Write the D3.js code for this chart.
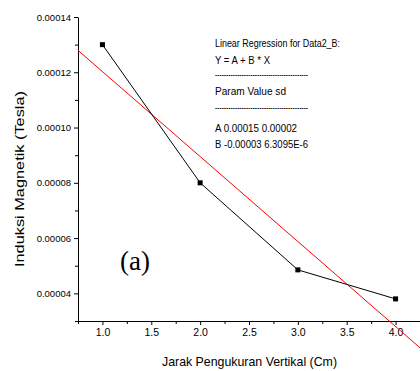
<!DOCTYPE html>
<html>
<head>
<meta charset="utf-8">
<script src="https://cdn.jsdelivr.net/npm/d3@7"></script>
<style>
  body { margin: 0; background: #fff; }
  svg { display: block; }
  .axis path, .axis line { stroke: #000; stroke-width: 1; }
  .axis text { font-family: "Liberation Sans", Arial, sans-serif; fill: #000; }
</style>
</head>
<body>
<svg id="chart"></svg>
<script>
// measured data (distance in cm, field in tesla)
const jarak = [1.0, 2.0, 3.0, 4.0];
const induksi = [0.00013, 0.00008, 0.0000485, 0.000038];

const xTicks = [1.0, 1.5, 2.0, 2.5, 3.0, 3.5, 4.0];
const xMinor = [0.75, 1.25, 1.75, 2.25, 2.75, 3.25, 3.75, 4.25];
const yTicks = [0.00004, 0.00006, 0.00008, 0.00010, 0.00012, 0.00014];
const yMinor = [0.00003, 0.00005, 0.00007, 0.00009, 0.00011, 0.00013];

const fitText = [
  "Linear Regression for Data2_B:",
  "Y = A + B * X",
  "------------------------------------------",
  "Param   Value   sd",
  "------------------------------------------",
  "A   0.00015   0.00002",
  "B   -0.00003   6.3095E-6"
];

const w = 420, h = 371;
const svg = d3.select("#chart").attr("width", w).attr("height", h);

const x = d3.scaleLinear().domain([0.75, 4.25]).range([78, 420]);
const y = d3.scaleLinear().domain([0.00003, 0.00014]).range([321, 17]);

// least squares fit
const mx = d3.mean(jarak), my = d3.mean(induksi);
let sxy = 0, sxx = 0;
jarak.forEach(function(d, i) {
  sxy += (d - mx) * (induksi[i] - my);
  sxx += (d - mx) * (d - mx);
});
const B = sxy / sxx;
const A = my - B * mx;

// minor ticks first
svg.append("g")
  .attr("class", "axis")
  .attr("transform", "translate(0,321)")
  .call(d3.axisBottom(x).tickValues(xMinor).tickSize(3).tickSizeOuter(0).tickFormat(""))
  .select(".domain").remove();

svg.append("g")
  .attr("class", "axis")
  .attr("transform", "translate(78,0)")
  .call(d3.axisLeft(y).tickValues(yMinor).tickSize(3).tickSizeOuter(0).tickFormat(""))
  .select(".domain").remove();

// major axes
const xAxis = svg.append("g")
  .attr("class", "axis")
  .attr("transform", "translate(0,321)")
  .call(d3.axisBottom(x).tickValues(xTicks).tickSize(4).tickSizeOuter(0).tickPadding(4)
    .tickFormat(d3.format(".1f")));
xAxis.selectAll("text").style("font-size", "10.5px");

const yAxis = svg.append("g")
  .attr("class", "axis")
  .attr("transform", "translate(78,0)")
  .call(d3.axisLeft(y).tickValues(yTicks).tickSize(4).tickSizeOuter(0).tickPadding(3)
    .tickFormat(d3.format(".5f")));
yAxis.selectAll("text").style("font-size", "9.5px");

// regression line
svg.append("line")
  .attr("x1", x(0.75)).attr("y1", y(A + B * 0.75))
  .attr("x2", x(4.25)).attr("y2", y(A + B * 4.25))
  .attr("stroke", "#ff0000")
  .attr("stroke-width", 1);

// data line and markers
const line = d3.line()
  .x(function(d, i) { return x(jarak[i]); })
  .y(function(d) { return y(d); });

svg.append("path")
  .datum(induksi)
  .attr("d", line)
  .attr("fill", "none")
  .attr("stroke", "#000")
  .attr("stroke-width", 1);

svg.selectAll(".pt")
  .data(induksi)
  .enter().append("rect")
  .attr("class", "pt")
  .attr("x", function(d, i) { return x(jarak[i]) - 2.5; })
  .attr("y", function(d) { return y(d) - 2.5; })
  .attr("width", 5)
  .attr("height", 5)
  .attr("fill", "#000");

// axis titles
svg.append("text")
  .attr("x", 162).attr("y", 366)
  .attr("textLength", 175)
  .attr("lengthAdjust", "spacingAndGlyphs")
  .style("font-family", "Liberation Sans, Arial, sans-serif")
  .style("font-size", "13px")
  .text("Jarak Pengukuran Vertikal (Cm)");

svg.append("text")
  .attr("transform", "translate(24,267) rotate(-90)")
  .attr("textLength", 176)
  .attr("lengthAdjust", "spacingAndGlyphs")
  .style("font-family", "Liberation Sans, Arial, sans-serif")
  .style("font-size", "13px")
  .text("Induksi Magnetik (Tesla)");

// panel label
svg.append("text")
  .attr("x", 120).attr("y", 270)
  .style("font-family", "Liberation Serif, Times New Roman, serif")
  .style("font-size", "27px")
  .text("(a)");

// fit report
const widths = [125, 55, 93, 71, 93, 82, 93];
const rows = [47, 64, 78, 95, 111, 132, 148];
svg.selectAll(".fit")
  .data(fitText)
  .enter().append("text")
  .attr("class", "fit")
  .attr("x", 215)
  .attr("y", function(d, i) { return rows[i]; })
  .attr("textLength", function(d, i) { return widths[i]; })
  .attr("lengthAdjust", "spacingAndGlyphs")
  .style("font-family", "Liberation Sans, Arial, sans-serif")
  .style("font-size", "11px")
  .text(function(d) { return d; });
</script>
</body>
</html>
